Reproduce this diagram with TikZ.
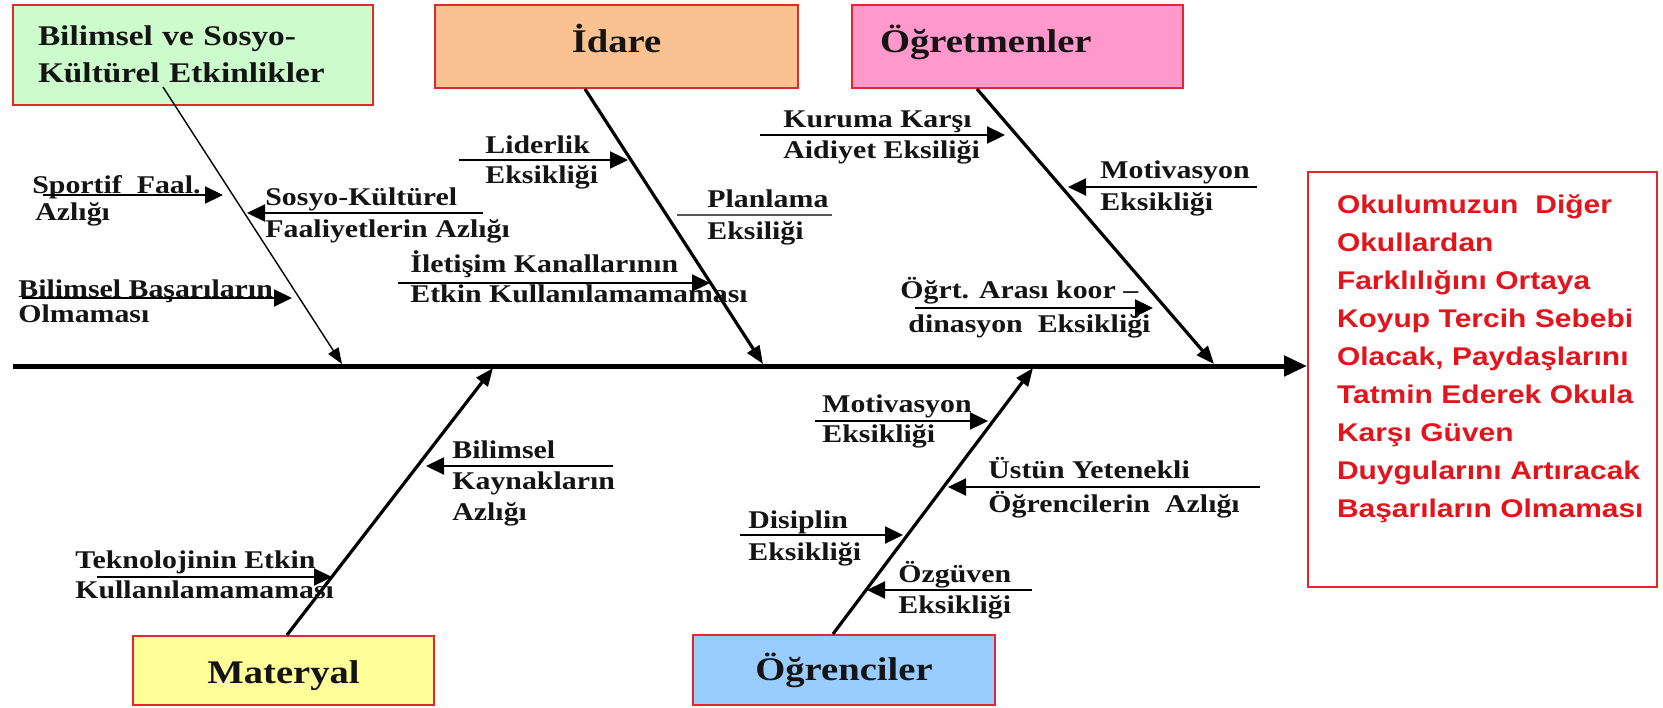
\documentclass[tikz,border=0pt]{standalone}
\usepackage{fontspec}
\usetikzlibrary{arrows.meta}
\newfontfamily\fishserif{Liberation Serif}[FakeStretch=1.17]
\newfontfamily\fishsans{Liberation Sans}[FakeStretch=1.17]
\newcommand\fishlab{\fishserif\bfseries\fontsize{12.75pt}{15.5pt}\selectfont}
\newcommand\fishtitle{\fishserif\bfseries\fontsize{16.5pt}{19pt}\selectfont}
\newcommand\fishgreen{\fishserif\bfseries\fontsize{14.25pt}{18.5pt}\selectfont}
\newcommand\fishresult{\fishsans\bfseries\fontsize{12.8pt}{19pt}\selectfont}
\definecolor{fillgreen}{HTML}{CCFCCC}
\definecolor{fillorange}{HTML}{FAC191}
\definecolor{fillpink}{HTML}{FF99CC}
\definecolor{fillyellow}{HTML}{FFFF99}
\definecolor{fillblue}{HTML}{99CCFF}
\definecolor{boxred}{HTML}{E0282E}
\definecolor{resred}{HTML}{E3151C}
\definecolor{ink}{HTML}{141414}
\definecolor{linegray}{HTML}{555555}
\tikzset{
  spine/.style={line width=2.5pt, -{Triangle[length=11.5pt,width=10pt]}},
  bone/.style={line width=1.6pt, -{Triangle[length=9pt,width=7pt]}},
  thinbone/.style={line width=0.7pt, -{Triangle[length=8pt,width=6pt]}},
  sub/.style={line width=1.1pt, -{Triangle[length=9pt,width=8.5pt]}},
  plainline/.style={line width=0.7pt, draw=linegray},
  lab/.style={anchor=base west, inner sep=0pt, align=left, font=\fishlab, text=ink},
  cat/.style={draw=boxred, line width=1pt, inner sep=0pt, text=ink, font=\fishtitle},
}
\begin{document}
\begin{tikzpicture}[x=0.5pt,y=-0.5pt]
\fill[white] (0,0) rectangle (1663,707);
\useasboundingbox (0,0) rectangle (1663,707);

% category boxes
\node[cat, fill=fillgreen, minimum width=180pt, minimum height=50pt,
      text width=155pt, align=left, text height=5pt, text depth=15pt,
      font=\fishgreen] (sci) at (193,55) {Bilimsel ve Sosyo-\\Kültürel Etkinlikler};
\node[cat, fill=fillorange, minimum width=181.5pt, minimum height=41.5pt,
      text height=11pt, text depth=5.5pt] (idare) at (616.5,46.5) {İdare};
\node[cat, fill=fillpink, minimum width=165.5pt, minimum height=41.5pt,
      text width=137.5pt, align=left, text height=11pt, text depth=5.5pt] (ogret) at (1017.5,46.5) {Öğretmenler};
\node[cat, fill=fillyellow, minimum width=150.5pt, minimum height=34.5pt,
      text height=14pt, text depth=1.5pt] (mat) at (283.5,670.5) {Materyal};
\node[cat, fill=fillblue, minimum width=151pt, minimum height=35pt,
      text height=12pt, text depth=2pt] (ogr) at (844,670) {Öğrenciler};

% effect box
\node[cat, fill=white, minimum width=174.5pt, minimum height=207.5pt,
      text width=145.5pt, align=left, text height=5pt, text depth=171.5pt,
      font=\fishresult, text=resred] (result) at (1482.5,379.5)
  {\mbox{Okulumuzun\ \ Diğer}\\\mbox{Okullardan}\\\mbox{Farklılığını Ortaya}\\\mbox{Koyup Tercih Sebebi}\\\mbox{Olacak, Paydaşlarını}\\\mbox{Tatmin Ederek Okula}\\\mbox{Karşı Güven}\\\mbox{Duygularını Artıracak}\\\mbox{Başarıların Olmaması}};

% spine
\coordinate (sp0) at (13,366);
\draw[spine] (sp0) -- (sp0 -| result.west);

% main bones
\coordinate (gs) at (163,87);
\coordinate (gt) at (342,364);
\coordinate (it) at (763,364);
\coordinate (ot) at (1214,364);
\coordinate (mt) at (493,368);
\coordinate (st) at (1033,368);
\draw[thinbone] (gs) -- (gt);
\draw[bone] ([xshift=-15.75pt]idare.south) -- (it);
\draw[bone] ([xshift=-20.25pt]ogret.south) -- (ot);
\draw[bone] ([xshift=1.75pt]mat.north) -- (mt);
\draw[bone] ([xshift=-5.5pt]ogr.north) -- (st);

% cause labels (anchored at the baseline of their last line)
\node[lab] (l1) at (32,220) {Sportif\ \ Faal.\\[-2pt]\hspace*{1.5pt}Azlığı};
\node[lab] (l2) at (265,237) {Sosyo-Kültürel\\[0.5pt]Faaliyetlerin Azlığı};
\node[lab] (l3) at (18,322) {Bilimsel Başarıların\\[-3pt]Olmaması};
\node[lab] (l4) at (485,183) {Liderlik\\[-0.5pt]Eksikliği};
\node[lab] (l5) at (707,239) {Planlama\\[0.5pt]Eksiliği};
\node[lab] (l6) at (410,302) {İletişim Kanallarının\\[-0.5pt]Etkin Kullanılamamaması};
\node[lab] (l7) at (783,158) {Kuruma Karşı\\Aidiyet Eksiliği};
\node[lab] (l8) at (1100,210) {Motivasyon\\[0.5pt]Eksikliği};
\node[lab] (l9) at (900,332) {Öğrt. Arası koor –\\[1.5pt]\hspace*{4pt}dinasyon\ \ Eksikliği};
\node[lab] (l10) at (822,442) {Motivasyon\\[-0.5pt]Eksikliği};
\node[lab] (l11) at (988,512) {Üstün Yetenekli\\[1.5pt]Öğrencilerin\ \ Azlığı};
\node[lab] (l12) at (748,560) {Disiplin\\[0.5pt]Eksikliği};
\node[lab] (l13) at (898,613) {Özgüven\\Eksikliği};
\node[lab] (l14) at (75,598) {Teknolojinin Etkin\\[-0.5pt]Kullanılamamaması};
\node[lab] (l15) at (452,520) {Bilimsel\\Kaynakların\\Azlığı};

% cause arrows
\coordinate (a1s) at (43,195);    \coordinate (a1e) at (223,195);
\coordinate (a2s) at (483,213);   \coordinate (a2e) at (247,213);
\coordinate (a3s) at (22,298);    \coordinate (a3e) at (292,298);
\coordinate (a4s) at (459,160);   \coordinate (a4e) at (628,160);
\coordinate (a5s) at (677,215);   \coordinate (a5e) at (832,215);
\coordinate (a6s) at (398,283);   \coordinate (a6e) at (710,283);
\coordinate (a7s) at (760,135);   \coordinate (a7e) at (1005,135);
\coordinate (a8s) at (1257,187);  \coordinate (a8e) at (1068,187);
\coordinate (a9s) at (915,308);   \coordinate (a9e) at (1153,308);
\coordinate (a10s) at (815,421);  \coordinate (a10e) at (988,421);
\coordinate (a11s) at (1260,487); \coordinate (a11e) at (948,487);
\coordinate (a12s) at (740,535);  \coordinate (a12e) at (903,535);
\coordinate (a13s) at (1032,590); \coordinate (a13e) at (867,590);
\coordinate (a14s) at (97,577);   \coordinate (a14e) at (332,577);
\coordinate (a15s) at (613,466);  \coordinate (a15e) at (426,466);
\foreach \k in {1,2,3,4,6,7,8,9,10,11,12,13,14,15}
  \draw[sub] (a\k s) -- (a\k e);
\draw[plainline] (a5s) -- (a5e);
\end{tikzpicture}
\end{document}
